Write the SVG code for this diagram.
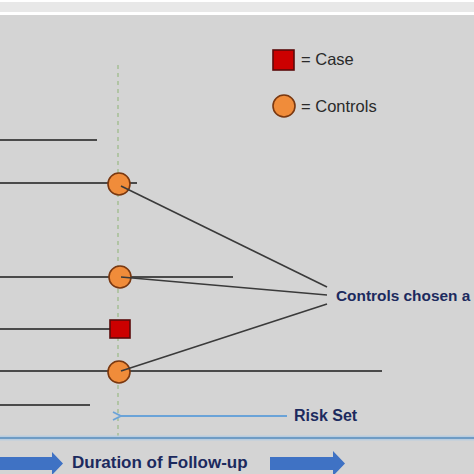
<svg xmlns="http://www.w3.org/2000/svg" width="474" height="474" viewBox="0 0 474 474">
<defs>
<style>
.tl{stroke:#4a4a4a;stroke-width:2;fill:none}
.cl{stroke:#3a3a3a;stroke-width:1.6;fill:none}
.ctrl{fill:#f08c3a;stroke:#7a3810;stroke-width:1.6}
.case{fill:#cc0000;stroke:#5a0a0a;stroke-width:1.6}
.lbl{font-family:"Liberation Sans",Arial,sans-serif;font-weight:bold;font-size:16px;fill:#1c2a5e}
.leg{font-family:"Liberation Sans",Arial,sans-serif;font-size:16.5px;fill:#2a2a2a}
.blk{fill:#3f72c4}
</style>
<marker id="ah" markerWidth="10" markerHeight="10" refX="1" refY="5" orient="auto" markerUnits="userSpaceOnUse">
<path d="M9,1 L1,5 L9,9" fill="none" stroke="#6aa3d8" stroke-width="1.8"/>
</marker>
</defs>
<rect width="474" height="474" fill="#ffffff"/>
<rect x="0" y="2" width="474" height="10" fill="#e8e8e8"/>
<rect x="0" y="15" width="474" height="459" fill="#d4d4d4"/>
<line x1="118" y1="65" x2="118" y2="436" stroke="#9fbc8c" stroke-width="1.3" stroke-dasharray="4,4"/>
<g id="timelines">
<line class="tl" x1="0" y1="140" x2="97" y2="140"/>
<line class="tl" x1="0" y1="183" x2="137" y2="183"/>
<line class="tl" x1="0" y1="277" x2="233" y2="277"/>
<line class="tl" x1="0" y1="329" x2="112" y2="329"/>
<line class="tl" x1="0" y1="371" x2="382" y2="371"/>
<line class="tl" x1="0" y1="405" x2="90" y2="405"/>
</g>
<g id="ctrl1"><circle class="ctrl" cx="119" cy="184" r="11"/></g>
<g id="ctrl2"><circle class="ctrl" cx="120" cy="277" r="11"/></g>
<g id="case"><rect class="case" x="110" y="320" width="20" height="18"/></g>
<g id="ctrl3"><circle class="ctrl" cx="119" cy="372" r="11"/></g>
<g id="connectors">
<line class="cl" x1="121" y1="186" x2="327" y2="287"/>
<line class="cl" x1="121" y1="277" x2="327" y2="295"/>
<line class="cl" x1="121" y1="371" x2="327" y2="304"/>
<line x1="287" y1="416" x2="121" y2="416" stroke="#6aa3d8" stroke-width="2" marker-end="url(#ah)"/>
</g>
<g id="legend-case">
<rect class="case" x="273" y="50" width="21" height="20"/>
<text class="leg" x="301" y="65">= Case</text>
</g>
<g id="legend-controls">
<circle class="ctrl" cx="284" cy="106" r="11"/>
<text class="leg" x="301" y="112">= Controls</text>
</g>
<g id="label-controls"><text class="lbl" x="336" y="301" style="font-size:15.4px">Controls chosen a</text></g>
<g id="label-riskset"><text class="lbl" x="294" y="421">Risk Set</text></g>
<line x1="0" y1="438" x2="474" y2="438" stroke="#b9cde0" stroke-width="5"/>
<line x1="0" y1="438" x2="474" y2="438" stroke="#6f9cc4" stroke-width="1.8"/>
<g id="follow-up">
<path class="blk" d="M0,457 L52,457 L52,452 L63,463.5 L52,475 L52,470 L0,470 Z"/>
<text class="lbl" x="72" y="468" style="font-size:17px">Duration of Follow-up</text>
<path class="blk" d="M270,457 L333,457 L333,451 L345,463.5 L333,476 L333,470 L270,470 Z"/>
</g>
</svg>
